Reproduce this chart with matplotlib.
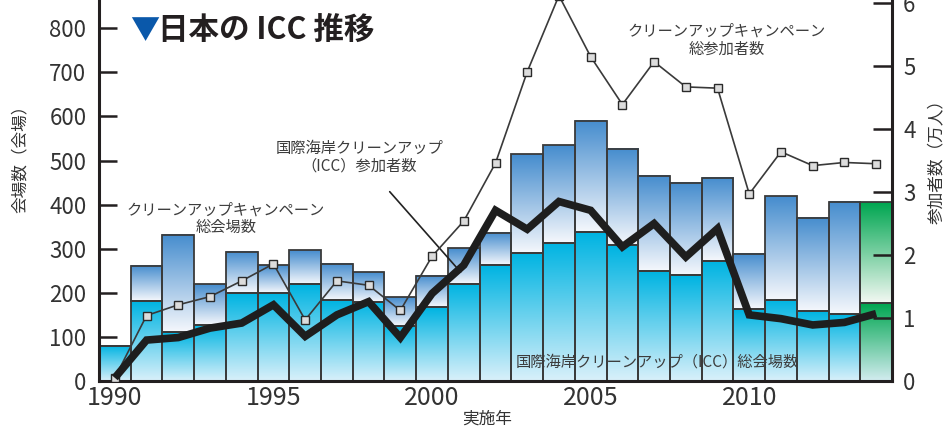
import numpy as np
import matplotlib
matplotlib.use('Agg')
import matplotlib.pyplot as plt
import matplotlib.colors as mcolors

plt.rcParams['font.family'] = ['Noto Sans CJK JP', 'DejaVu Sans']

# data
years = list(range(1990, 2015))
campaign_sites = [80, 261, 331, 219, 293, 262, 296, 265, 247, 190, 238, 302, 336,
                  514, 535, 590, 527, 466, 450, 461, 288, 419, 369, 405, 405]
icc_sites = [80, 181, 110, 128, 199, 199, 219, 183, 180, 125, 167, 221, 263,
             291, 314, 337, 308, 249, 240, 272, 163, 184, 158, 151, 176]
campaign_people = [0.05, 1.04, 1.21, 1.34, 1.59, 1.86, 0.97, 1.59, 1.52, 1.12, 1.98, 2.54, 3.46,
                   4.91, 6.12, 5.15, 4.39, 5.07, 4.67, 4.65, 2.97, 3.64, 3.42, 3.47, 3.45]
icc_people = [0.05, 0.65, 0.69, 0.84, 0.92, 1.21, 0.71, 1.05, 1.26, 0.69, 1.39, 1.84, 2.71,
              2.41, 2.85, 2.71, 2.13, 2.50, 1.97, 2.42, 1.05, 0.99, 0.89, 0.93, 1.07]
left_ticks = [0, 100, 200, 300, 400, 500, 600, 700, 800]
right_ticks = [0, 1, 2, 3, 4, 5, 6]
year_ticks = [1990, 1995, 2000, 2005, 2010]
highlight_year = 2014


def grad_bar(ax, x, y0, y1, c_top, c_bot, w=1.0):
    if y1 <= y0:
        return
    t = np.linspace(0, 1, 64)[:, None]
    top = np.array(mcolors.to_rgb(c_top))
    bot = np.array(mcolors.to_rgb(c_bot))
    img = bot + (top - bot) * t
    ax.imshow(img[:, None, :], extent=(x - w / 2, x + w / 2, y0, y1), origin='lower',
              aspect='auto', interpolation='bilinear', zorder=1)


fig = plt.figure(figsize=(9.52, 4.36), dpi=100)
ax = fig.add_axes([99 / 952, 55 / 436, 793 / 952, 381 / 436])
ax2 = ax.twinx()

edge = '#3a3a3a'
for yr, tot, icc in zip(years, campaign_sites, icc_sites):
    if yr == highlight_year:
        grad_bar(ax, yr, 0, icc, '#00a651', '#d2ecef')
        grad_bar(ax, yr, icc, tot, '#00a651', '#f2f8f2')
    else:
        grad_bar(ax, yr, 0, icc, '#00b4e2', '#d8f0fa')
        grad_bar(ax, yr, icc, tot, '#468dce', '#f4f7fc')
ax.bar(years, icc_sites, width=1.0, fill=False, edgecolor=edge, linewidth=1.3, zorder=2)
upper = [t - i for t, i in zip(campaign_sites, icc_sites)]
ax.bar(years, upper, bottom=icc_sites, width=1.0, fill=False, edgecolor=edge, linewidth=1.3, zorder=2)

ax2.plot(years, campaign_people, color='#3a3a3a', lw=1.2, marker='s', ms=6,
         mfc='#dcdcdc', mec='#2a2a2a', mew=1.0, zorder=3)
ax2.plot(years, icc_people, color='#1e1e1e', lw=5.5, solid_joinstyle='miter',
         solid_capstyle='butt', zorder=4)

ax.set_xlim(1989.5, 2014.5)
ax.set_ylim(0, 864)
ax2.set_ylim(0, 6.05)
ax.set_xticks(year_ticks)
ax.set_yticks(left_ticks)
ax2.set_yticks(right_ticks)

for a in (ax, ax2):
    a.spines['top'].set_visible(False)
    for s in ('left', 'right', 'bottom'):
        a.spines[s].set_linewidth(2.2)
        a.spines[s].set_color('#231f20')
ax.spines['right'].set_visible(False)
ax2.spines['left'].set_visible(False)
ax2.spines['bottom'].set_visible(False)

ax.tick_params(axis='y', direction='in', length=13, width=1.8, labelsize=16, pad=9,
               colors='#231f20', labelcolor='#333333')
ax.tick_params(axis='x', length=0, labelsize=18, pad=3, labelcolor='#333333')
ax2.tick_params(axis='y', direction='in', length=14, width=1.8, labelsize=16, pad=8,
                colors='#231f20', labelcolor='#333333')

# annotations
txt = '#3c3c3c'
ax.text(1993.5, 368, 'クリーンアップキャンペーン\n総会場数', ha='center', va='center',
        fontsize=11, color=txt, linespacing=1.05, zorder=5)
ax.text(2009.3, 773, 'クリーンアップキャンペーン\n総参加者数', ha='center', va='center',
        fontsize=11, color=txt, linespacing=1.05, zorder=5)
ax.text(2007.1, 42, '国際海岸クリーンアップ（ICC）総会場数', ha='center', va='center',
        fontsize=11, color=txt, zorder=5)
ax.annotate('国際海岸クリーンアップ\n（ICC）参加者数', xy=(2000.9, 247), xytext=(1997.7, 508),
            ha='center', va='center', fontsize=11, color=txt, linespacing=1.05, zorder=5,
            arrowprops=dict(arrowstyle='-', color='#222222', lw=1.2, shrinkA=14, shrinkB=0))

fig.text(130 / 952, 1 - 31 / 436, '▼', color='#0a58aa', fontsize=21, ha='left', va='center')
fig.text(158 / 952, 1 - 30 / 436, '日本の ICC 推移', color='#231f20', fontsize=22,
         fontweight='bold', ha='left', va='center')

fig.text(20 / 952, 1 - 155 / 436, '会場数（会場）', rotation=90, fontsize=12,
         color='#333333', ha='center', va='center')
fig.text(937 / 952, 1 - 157 / 436, '参加者数（万人）', rotation=90, fontsize=12,
         color='#333333', ha='center', va='center')
fig.text(487 / 952, 1 - 419 / 436, '実施年', fontsize=12, color='#333333',
         ha='center', va='center')

fig.savefig('out.png', dpi=100)
